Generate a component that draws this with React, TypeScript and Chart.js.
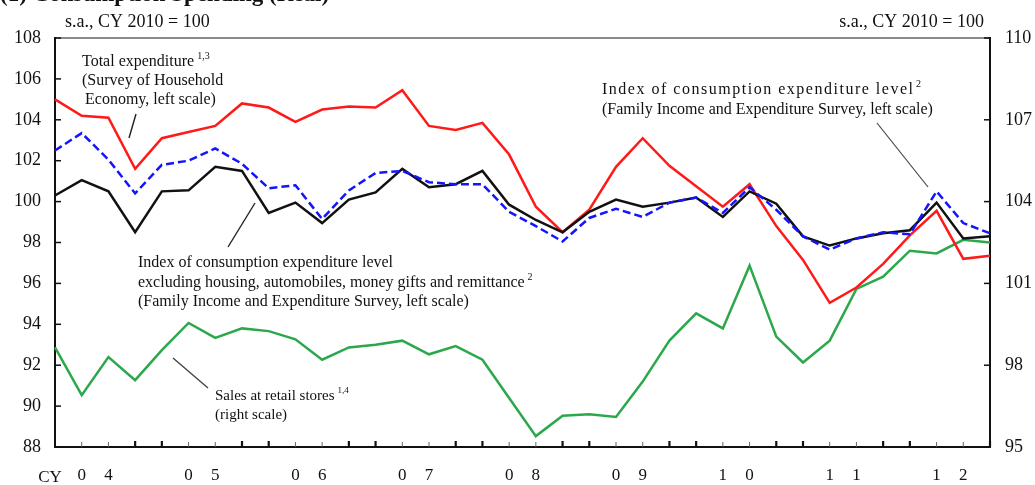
import React, { useEffect, useRef } from 'react';
import { Chart, registerables } from 'chart.js';

Chart.register(...registerables);

// ---- data ----
const yearLabels = ['04', '05', '06', '07', '08', '09', '10', '11', '12'];
const quarterNames = ['Q1', 'Q2', 'Q3', 'Q4'];
const quarters = yearLabels.flatMap((y) => quarterNames.map((q) => `${y}${q}`));

const leftTicks = { min: 88, max: 108, step: 2 };
const rightTicks = { min: 95, max: 110, step: 3 };

// Total expenditure (Survey of Household Economy, left scale)
const totalExpenditure = [
  105.0, 104.2, 104.1, 101.6, 103.1, 103.4, 103.7, 104.8, 104.6, 103.9, 104.5, 104.65,
  104.6, 105.45, 103.7, 103.5, 103.85, 102.3, 99.75, 98.5, 99.6, 101.7, 103.1, 101.75,
  100.75, 99.75, 100.85, 98.8, 97.15, 95.05, 95.8, 96.95, 98.35, 99.55, 97.2, 97.35,
];
// Index of consumption expenditure level excl. housing etc. (left scale)
const consumptionExcl = [
  100.3, 101.05, 100.5, 98.5, 100.5, 100.55, 101.7, 101.5, 99.45, 99.95, 98.95, 100.1,
  100.45, 101.6, 100.7, 100.85, 101.5, 99.85, 99.1, 98.5, 99.5, 100.1, 99.75, 99.95,
  100.2, 99.25, 100.5, 99.9, 98.3, 97.85, 98.2, 98.45, 98.6, 99.95, 98.2, 98.3,
];
// Index of consumption expenditure level (left scale)
const consumptionLevel = [
  102.5, 103.35, 102.05, 100.4, 101.8, 102.0, 102.6, 101.85, 100.65, 100.8, 99.15, 100.55,
  101.4, 101.5, 100.95, 100.85, 100.85, 99.5, 98.8, 98.05, 99.2, 99.65, 99.25, 99.95,
  100.2, 99.45, 100.7, 99.6, 98.3, 97.65, 98.2, 98.5, 98.4, 100.5, 98.95, 98.45,
];
// Sales at retail stores (right scale)
const retailSales = [
  98.65, 96.9, 98.3, 97.45, 98.55, 99.55, 99.0, 99.35, 99.25, 98.95, 98.2, 98.65,
  98.75, 98.9, 98.4, 98.7, 98.2, 96.8, 95.4, 96.15, 96.2, 96.1, 97.4, 98.9,
  99.9, 99.35, 101.65, 99.05, 98.1, 98.9, 100.8, 101.25, 102.2, 102.1, 102.6, 102.5,
];

const FONT = '"Liberation Serif", "Times New Roman", serif';
const TEXT = '#111';

type Seg = { t: string; sup?: string; width?: number };

function drawLine(ctx: CanvasRenderingContext2D, x: number, y: number, seg: Seg, size = 16) {
  ctx.save();
  ctx.font = `${size}px ${FONT}`;
  ctx.fillStyle = TEXT;
  ctx.textAlign = 'left';
  ctx.textBaseline = 'middle';
  let w = ctx.measureText(seg.t).width;
  if (seg.width && seg.t.length > 1) {
    const sp = (seg.width - w) / (seg.t.length - 1);
    (ctx as any).letterSpacing = `${sp}px`;
    w = seg.width;
  }
  ctx.fillText(seg.t, x, y);
  (ctx as any).letterSpacing = '0px';
  if (seg.sup) {
    ctx.font = `${Math.round(size * 0.6)}px ${FONT}`;
    ctx.fillText(seg.sup, x + w + 3, y - size * 0.38);
  }
  ctx.restore();
}

function leader(ctx: CanvasRenderingContext2D, x1: number, y1: number, x2: number, y2: number, color = '#222', w = 1.4) {
  ctx.save();
  ctx.strokeStyle = color;
  ctx.lineWidth = w;
  ctx.beginPath();
  ctx.moveTo(x1, y1);
  ctx.lineTo(x2, y2);
  ctx.stroke();
  ctx.restore();
}

const framePlugin = {
  id: 'frame',
  beforeDatasetsDraw(chart: any) {
    const { ctx, chartArea: a, scales } = chart;
    ctx.save();
    // top border (grey)
    ctx.strokeStyle = '#8a8a8a';
    ctx.lineWidth = 2;
    ctx.beginPath();
    ctx.moveTo(a.left, a.top);
    ctx.lineTo(a.right, a.top);
    ctx.stroke();
    // left, bottom, right axes
    ctx.strokeStyle = '#111';
    ctx.lineWidth = 2;
    ctx.beginPath();
    ctx.moveTo(a.left, a.top - 1);
    ctx.lineTo(a.left, a.bottom);
    ctx.lineTo(a.right, a.bottom);
    ctx.lineTo(a.right, a.top - 1);
    ctx.stroke();
    // y ticks (inward)
    ctx.lineWidth = 1.5;
    scales.y.ticks.forEach((t: any) => {
      const py = scales.y.getPixelForValue(t.value);
      ctx.beginPath();
      ctx.moveTo(a.left, py);
      ctx.lineTo(a.left + 6, py);
      ctx.stroke();
    });
    scales.y2.ticks.forEach((t: any) => {
      const py = scales.y2.getPixelForValue(t.value);
      ctx.beginPath();
      ctx.moveTo(a.right - 6, py);
      ctx.lineTo(a.right, py);
      ctx.stroke();
    });
    // x ticks (inward)
    for (let i = 1; i < quarters.length; i++) {
      const px = scales.x.getPixelForValue(i);
      const bold = i % 4 === 0 || i % 4 === 3;
      ctx.strokeStyle = bold ? '#111' : '#666';
      ctx.lineWidth = bold ? 2.2 : 1;
      ctx.beginPath();
      ctx.moveTo(px, a.bottom);
      ctx.lineTo(px, a.bottom - (bold ? 6 : 5));
      ctx.stroke();
    }
    ctx.restore();
  },
  afterDraw(chart: any) {
    const { ctx } = chart;
    ctx.save();
    // heading, clipped at the top edge of the picture
    ctx.font = `bold 23px ${FONT}`;
    ctx.fillStyle = TEXT;
    ctx.textAlign = 'left';
    ctx.textBaseline = 'alphabetic';
    ctx.fillText('(1) Consumption Spending (Real)', 0, 1);

    // unit labels
    ctx.font = `18px ${FONT}`;
    ctx.textBaseline = 'middle';
    ctx.textAlign = 'left';
    ctx.fillText('s.a., CY 2010 = 100', 65, 22);
    ctx.textAlign = 'right';
    ctx.fillText('s.a., CY 2010 = 100', 984, 22);

    // CY label
    ctx.font = `17px ${FONT}`;
    ctx.textAlign = 'center';
    ctx.fillText('CY', 50, 478);

    // annotations
    drawLine(ctx, 82, 62, { t: 'Total expenditure', sup: '1,3' }, 16);
    drawLine(ctx, 82, 81, { t: '(Survey of Household' }, 16);
    drawLine(ctx, 85, 100, { t: 'Economy, left scale)' }, 16);
    leader(ctx, 136, 114, 129, 138);

    drawLine(ctx, 602, 90, { t: 'Index of consumption expenditure level', sup: '2', width: 311 }, 16);
    drawLine(ctx, 602, 110, { t: '(Family Income and Expenditure Survey, left scale)' }, 16);
    leader(ctx, 877, 123, 928, 187, '#444', 1.2);

    drawLine(ctx, 138, 263, { t: 'Index of consumption expenditure level' }, 16);
    drawLine(ctx, 138, 283, { t: 'excluding housing, automobiles, money gifts and remittance', sup: '2' }, 16);
    drawLine(ctx, 138, 302, { t: '(Family Income and Expenditure Survey, left scale)' }, 16);
    leader(ctx, 255, 203, 228, 247);

    drawLine(ctx, 215, 396, { t: 'Sales at retail stores', sup: '1,4' }, 15);
    drawLine(ctx, 215, 415, { t: '(right scale)' }, 15);
    leader(ctx, 173, 358, 208, 388, '#444', 1.4);
    ctx.restore();
  },
};

function xLabel(i: number): string {
  const y = Math.floor(i / 4);
  const q = i % 4;
  const lab = yearLabels[y];
  if (!lab) return '';
  if (q === 1) return lab[0];
  if (q === 2) return lab[1];
  return '';
}

export default function App() {
  const ref = useRef<HTMLCanvasElement>(null);
  useEffect(() => {
    document.body.style.margin = '0';
    if (!ref.current) return;
    const tickFont = { family: FONT, size: 18 };
    const chart = new Chart(ref.current, {
      type: 'line',
      data: {
        labels: quarters,
        datasets: [
          {
            label: 'Index of consumption expenditure level',
            data: consumptionLevel,
            borderColor: '#1414ff',
            borderWidth: 2.5,
            borderDash: [8, 4],
            yAxisID: 'y',
          },
          {
            label: 'Index excl. housing etc.',
            data: consumptionExcl,
            borderColor: '#111111',
            borderWidth: 2.5,
            yAxisID: 'y',
          },
          {
            label: 'Total expenditure',
            data: totalExpenditure,
            borderColor: '#ff1a1a',
            borderWidth: 2.5,
            yAxisID: 'y',
          },
          {
            label: 'Sales at retail stores',
            data: retailSales,
            borderColor: '#2ca84c',
            borderWidth: 2.5,
            yAxisID: 'y2',
          },
        ],
      },
      options: {
        animation: false,
        responsive: false,
        layout: { padding: { top: 38, left: 0, right: 0, bottom: 0 } },
        plugins: { legend: { display: false }, tooltip: { enabled: false } },
        elements: { point: { radius: 0 }, line: { tension: 0, borderCapStyle: 'butt', borderJoinStyle: 'miter' } },
        scales: {
          x: {
            type: 'category',
            offset: false,
            grid: { display: false },
            border: { display: false },
            ticks: {
              autoSkip: false,
              maxRotation: 0,
              minRotation: 0,
              padding: 10,
              color: TEXT,
              font: { family: FONT, size: 17 },
              callback: (_v: any, i: number) => xLabel(i),
            },
            afterFit: (s: any) => {
              s.height = 38;
            },
          },
          y: {
            position: 'left',
            min: leftTicks.min,
            max: leftTicks.max,
            grid: { display: false },
            border: { display: false },
            ticks: { stepSize: leftTicks.step, padding: 6, color: TEXT, font: tickFont },
            afterFit: (s: any) => {
              s.width = 55;
            },
          },
          y2: {
            position: 'right',
            min: rightTicks.min,
            max: rightTicks.max,
            grid: { display: false },
            border: { display: false },
            ticks: { stepSize: rightTicks.step, padding: 7, color: TEXT, font: tickFont },
            afterFit: (s: any) => {
              s.width = 45;
            },
          },
        },
      } as any,
      plugins: [framePlugin],
    });
    return () => chart.destroy();
  }, []);
  return (
    <div style={{ width: 1035, height: 485, background: '#fff' }}>
      <canvas ref={ref} width={1035} height={485} style={{ display: 'block' }} />
    </div>
  );
}
